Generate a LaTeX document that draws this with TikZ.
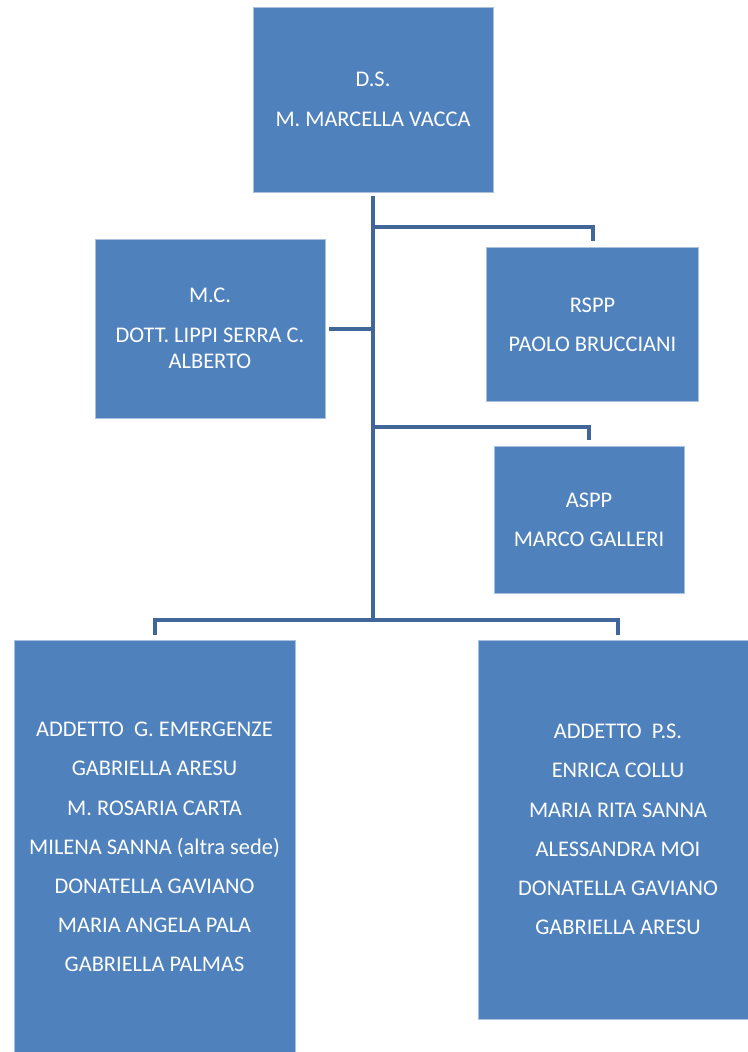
\documentclass[tikz,border=0pt]{standalone}
\usepackage{fontspec}
\setmainfont{Carlito}
\usetikzlibrary{calc}
\definecolor{boxblue}{HTML}{4F81BD}
\definecolor{boxedge}{HTML}{A9C0DE}
\definecolor{linkblue}{HTML}{41669A}
\tikzset{
	post/.style={draw=boxedge, line width=0.6pt, fill=boxblue, text=white, align=center, inner sep=0pt, font=\fontsize{22.4}{26}\selectfont},
	link/.style={draw=linkblue, line width=4pt}
}

\begin{document}
\begin{tikzpicture}[x=1pt, y=-1pt]
	%%%%% START %%%%%
	
	\useasboundingbox (0, 0) rectangle (747, 1052);
	
	\node[post, minimum width=240pt, minimum height=185pt] (ds) at (373, 99.5) {D.S.\\[13.5pt]M. MARCELLA VACCA};
	\node[post, minimum width=230pt, minimum height=179pt] (mc) at (210, 328.5) {M.C.\\[13.5pt]DOTT. LIPPI SERRA C.\\ALBERTO};
	\node[post, minimum width=212pt, minimum height=154pt] (rspp) at (592.5, 324.5) {RSPP\\[13pt]PAOLO BRUCCIANI};
	\node[post, minimum width=190pt, minimum height=147pt] (aspp) at (589, 519.5) {ASPP\\[13pt]MARCO GALLERI};
	
	\node[post, minimum width=281pt, minimum height=414pt] (emerg) at (154.5, 847) {ADDETTO\ \ G. EMERGENZE\\[13.2pt]GABRIELLA ARESU\\[13.2pt]M. ROSARIA CARTA\\[13.2pt]MILENA SANNA (altra sede)\\[13.2pt]DONATELLA GAVIANO\\[13.2pt]MARIA ANGELA PALA\\[13.2pt]GABRIELLA PALMAS};
	\node[post, minimum width=280pt, minimum height=379pt] (ps) at (618, 829.5) {ADDETTO\ \ P.S.\\[13.2pt]ENRICA COLLU\\[13.2pt]MARIA RITA SANNA\\[13.2pt]ALESSANDRA MOI\\[13.2pt]DONATELLA GAVIANO\\[13.2pt]GABRIELLA ARESU};
	
	\coordinate (jr) at (373, 227);
	\coordinate (ja) at (373, 427);
	\coordinate (jb) at (373, 620);
	
	\draw[link, shorten <=4pt] (ds.south) -- (jb);
	\draw[link, shorten >=6pt] (jr) -| (rspp.north);
	\draw[link, shorten <=4pt] (mc.east) -- (mc.east -| jr);
	\draw[link, shorten >=6pt] (ja) -| (aspp.north);
	\draw[link, shorten >=5pt] (jb) -| (emerg.north);
	\draw[link, shorten >=5pt] (jb) -| (ps.north);
	
	%%%%% END %%%%%
\end{tikzpicture}
\end{document}
